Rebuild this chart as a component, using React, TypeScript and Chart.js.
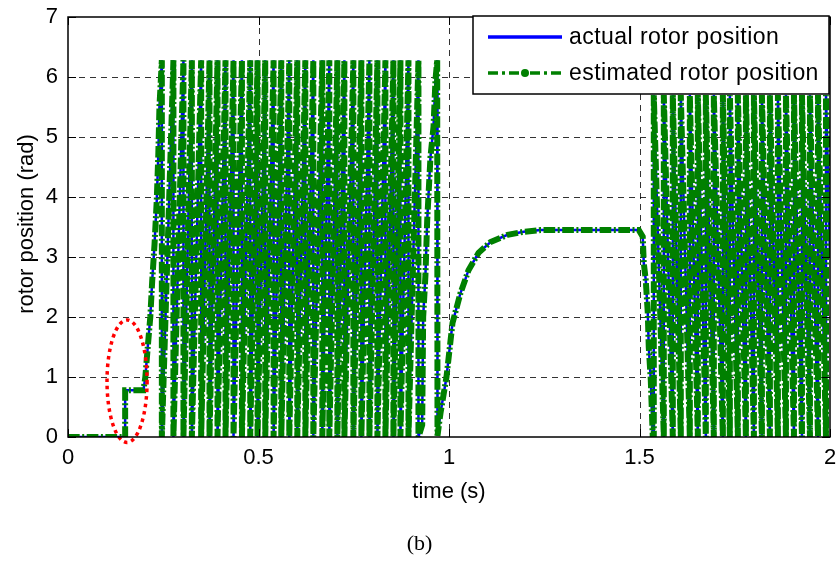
import { useEffect, useRef } from "react";
import { Chart, registerables } from "chart.js";

Chart.register(...registerables);

// ---- axis ticks ----
const X_TICKS = [0, 0.5, 1, 1.5, 2];
const Y_TICKS = [0, 1, 2, 3, 4, 5, 6, 7];

// ---- series values (time in s, angle in rad) ----
// start-up: rest, first alignment step, then the first slow ramp
const startTimes = [0, 0.15, 0.15, 0.198, 0.203, 0.21, 0.216, 0.221, 0.227, 0.233, 0.237, 0.24];
const startAngles = [0, 0, 0.78, 0.78, 1.0, 1.55, 2.0, 2.6, 3.2, 3.95, 4.7, 5.5];

// forward rotation: times where the angle wraps from 2π back to 0
const forwardWrapTimes = [
  0.2463, 0.2767, 0.303, 0.3251, 0.3495, 0.3714, 0.3924, 0.4134, 0.4344, 0.4565,
  0.4783, 0.4975, 0.5177, 0.5396, 0.5598, 0.5808, 0.6018, 0.6229, 0.6439, 0.6675,
  0.6859, 0.707, 0.7254, 0.749, 0.77, 0.7911, 0.8121, 0.8331, 0.8541, 0.8725,
  0.8936, 0.9198,
];
const FORWARD_PEAK = 6.28;

// last slow turn, coast-down to standstill, hold, then reverse start
const coastTimes = [
  0.9296, 0.9322, 0.9382, 0.9427, 0.9514, 0.9593, 0.9645, 0.969, 0.9698, 0.9777,
  0.9934, 1.0092, 1.0302, 1.0512, 1.0775, 1.1091, 1.1537, 1.1958, 1.2405, 1.498,
  1.5085, 1.5112, 1.5164, 1.5217, 1.5243, 1.5296, 1.5348,
];
const coastAngles = [
  0.2, 2.0, 2.7, 3.6, 4.67, 5.17, 5.95, 6.28, 0.02, 0.4,
  1.0, 1.9, 2.4, 2.78, 3.07, 3.25, 3.37, 3.42, 3.45, 3.45,
  3.34, 2.9, 2.62, 2.07, 1.5, 0.95, 0,
];

// reverse rotation: times where the angle wraps from 0 up to the top
const reverseWrapTimes = [
  1.5375, 1.5638, 1.5874, 1.6084, 1.6321, 1.6531, 1.6741, 1.6951, 1.7188, 1.7372,
  1.7582, 1.7793, 1.8003, 1.8213, 1.8423, 1.8633, 1.8844, 1.9054, 1.9264, 1.9474,
  1.9685, 1.9895,
];
const REVERSE_PEAK = 5.7;
const END_TIME = 2.0;
const END_ANGLE = 3.0;

// highlighted region (red dotted ellipse), in data units
const ELLIPSE_CENTER = { t: 0.155, a: 0.93 };
const ELLIPSE_RADII = { t: 0.0526, a: 1.02 };

const LEGEND_LABELS = ["actual rotor position", "estimated rotor position"];
const X_TITLE = "time (s)";
const Y_TITLE = "rotor position (rad)";
const CAPTION = "(b)";

const BLUE = "#0000ff";
const GREEN = "#008000";
const FONT = "'Liberation Sans', Arial, Helvetica, sans-serif";

function buildPoints() {
  const pts: { x: number; y: number }[] = [];
  startTimes.forEach((t, i) => pts.push({ x: t, y: startAngles[i] }));
  forwardWrapTimes.forEach((t) => {
    pts.push({ x: t, y: FORWARD_PEAK });
    pts.push({ x: t, y: 0 });
  });
  coastTimes.forEach((t, i) => pts.push({ x: t, y: coastAngles[i] }));
  reverseWrapTimes.forEach((t) => {
    pts.push({ x: t, y: 0 });
    pts.push({ x: t, y: REVERSE_PEAK });
  });
  pts.push({ x: END_TIME, y: END_ANGLE });
  return pts;
}

const decorPlugin = {
  id: "decor",
  beforeDatasetsDraw(chart: any) {
    const { ctx, chartArea: a, scales } = chart;
    ctx.save();
    ctx.strokeStyle = "rgba(0,0,0,0.8)";
    ctx.lineWidth = 1;
    ctx.setLineDash([6, 5]);
    X_TICKS.slice(1, -1).forEach((v) => {
      const x = Math.round(scales.x.getPixelForValue(v)) + 0.5;
      ctx.beginPath();
      ctx.moveTo(x, a.top);
      ctx.lineTo(x, a.bottom);
      ctx.stroke();
    });
    Y_TICKS.slice(1, -1).forEach((v) => {
      const y = Math.round(scales.y.getPixelForValue(v)) + 0.5;
      ctx.beginPath();
      ctx.moveTo(a.left, y);
      ctx.lineTo(a.right, y);
      ctx.stroke();
    });
    ctx.restore();
  },
  afterDatasetsDraw(chart: any) {
    const { ctx, chartArea: a, scales } = chart;
    ctx.save();
    // red dotted ellipse
    const cx = scales.x.getPixelForValue(ELLIPSE_CENTER.t);
    const cy = scales.y.getPixelForValue(ELLIPSE_CENTER.a);
    const rx = scales.x.getPixelForValue(ELLIPSE_CENTER.t + ELLIPSE_RADII.t) - cx;
    const ry = cy - scales.y.getPixelForValue(ELLIPSE_CENTER.a + ELLIPSE_RADII.a);
    ctx.strokeStyle = "#ff0000";
    ctx.lineWidth = 3.5;
    ctx.setLineDash([3.5, 4]);
    ctx.beginPath();
    ctx.ellipse(cx, cy, rx, ry, 0, 0, Math.PI * 2);
    ctx.stroke();
    ctx.setLineDash([]);

    // axes box + inward ticks
    ctx.strokeStyle = "#000";
    ctx.lineWidth = 1.5;
    ctx.strokeRect(a.left, a.top, a.right - a.left, a.bottom - a.top);
    ctx.lineWidth = 1;
    const tl = 8;
    X_TICKS.forEach((v) => {
      const x = Math.round(scales.x.getPixelForValue(v)) + 0.5;
      ctx.beginPath();
      ctx.moveTo(x, a.bottom);
      ctx.lineTo(x, a.bottom - tl);
      ctx.moveTo(x, a.top);
      ctx.lineTo(x, a.top + tl);
      ctx.stroke();
    });
    Y_TICKS.forEach((v) => {
      const y = Math.round(scales.y.getPixelForValue(v)) + 0.5;
      ctx.beginPath();
      ctx.moveTo(a.left, y);
      ctx.lineTo(a.left + tl, y);
      ctx.moveTo(a.right, y);
      ctx.lineTo(a.right - tl, y);
      ctx.stroke();
    });
    ctx.restore();
  },
  afterDraw(chart: any) {
    const { ctx, chartArea: a } = chart;
    ctx.save();
    // axis titles
    ctx.fillStyle = "#000";
    ctx.font = `22px ${FONT}`;
    ctx.textAlign = "center";
    ctx.textBaseline = "middle";
    ctx.fillText(X_TITLE, (a.left + a.right) / 2, 492);
    ctx.save();
    ctx.translate(27, 224);
    ctx.rotate(-Math.PI / 2);
    ctx.fillText(Y_TITLE, 0, 0);
    ctx.restore();

    // legend
    const bx = 473, by = 16, bw = 356, bh = 78;
    ctx.fillStyle = "#fff";
    ctx.fillRect(bx, by, bw, bh);
    ctx.strokeStyle = "#000";
    ctx.lineWidth = 1.5;
    ctx.strokeRect(bx, by, bw, bh);
    const y1 = 37, y2 = 73;
    ctx.lineWidth = 3.5;
    ctx.strokeStyle = BLUE;
    ctx.beginPath();
    ctx.moveTo(488, y1);
    ctx.lineTo(562, y1);
    ctx.stroke();
    ctx.strokeStyle = GREEN;
    ctx.setLineDash([10, 4, 3, 4]);
    ctx.beginPath();
    ctx.moveTo(488, y2);
    ctx.lineTo(562, y2);
    ctx.stroke();
    ctx.setLineDash([]);
    ctx.fillStyle = GREEN;
    ctx.beginPath();
    ctx.arc(525, y2, 4, 0, Math.PI * 2);
    ctx.fill();
    ctx.fillStyle = "#000";
    ctx.font = `23px ${FONT}`;
    ctx.textAlign = "left";
    ctx.textBaseline = "middle";
    try {
      (ctx as any).letterSpacing = "0.45px";
    } catch (e) {}
    ctx.fillText(LEGEND_LABELS[0], 569, y1 + 1);
    ctx.fillText(LEGEND_LABELS[1], 569, y2 + 1);
    ctx.restore();
  },
};

export default function App() {
  const ref = useRef<HTMLCanvasElement | null>(null);
  useEffect(() => {
    if (!ref.current) return;
    const pts = buildPoints();
    const chart = new Chart(ref.current, {
      type: "line",
      data: {
        datasets: [
          {
            label: LEGEND_LABELS[1],
            data: pts,
            borderColor: GREEN,
            borderWidth: 6,
            borderDash: [11.7, 2.5, 2, 2.5],
            pointRadius: 0,
            tension: 0,
            fill: false,
            order: 0,
          },
          {
            label: LEGEND_LABELS[0],
            data: pts,
            borderColor: BLUE,
            borderWidth: 2.5,
            pointRadius: 0,
            tension: 0,
            fill: false,
            order: 1,
          },
        ],
      },
      options: {
        responsive: false,
        animation: false,
        layout: { padding: { left: 0, right: 9, top: 17, bottom: 0 } },
        plugins: { legend: { display: false }, tooltip: { enabled: false } },
        scales: {
          x: {
            type: "linear",
            min: 0,
            max: 2,
            afterBuildTicks: (s: any) => {
              s.ticks = X_TICKS.map((v) => ({ value: v }));
            },
            afterFit: (s: any) => {
              s.height = 129;
              s.paddingLeft = 0;
              s.paddingRight = 0;
            },
            grid: { display: false, drawTicks: false },
            border: { display: false },
            ticks: {
              padding: 8,
              autoSkip: false,
              maxRotation: 0,
              color: "#000",
              font: { family: FONT, size: 22 },
              callback: (v: any) => String(v),
            },
          },
          y: {
            type: "linear",
            min: 0,
            max: 7,
            afterBuildTicks: (s: any) => {
              s.ticks = Y_TICKS.map((v) => ({ value: v }));
            },
            afterFit: (s: any) => {
              s.width = 68;
              s.paddingTop = 0;
              s.paddingBottom = 0;
            },
            grid: { display: false, drawTicks: false },
            border: { display: false },
            ticks: {
              padding: 10,
              autoSkip: false,
              color: "#000",
              font: { family: FONT, size: 22 },
              callback: (v: any) => String(v),
            },
          },
        },
      },
      plugins: [decorPlugin],
    });
    return () => chart.destroy();
  }, []);

  return (
    <div style={{ position: "fixed", left: 0, top: 0, width: 839, height: 566, background: "#fff" }}>
      <canvas ref={ref} width={839} height={566} style={{ display: "block" }} />
      <div
        style={{
          position: "absolute",
          left: 0,
          top: 529,
          width: 839,
          textAlign: "center",
          fontFamily: "'Liberation Serif', 'Times New Roman', serif",
          fontSize: 22,
          lineHeight: "28px",
        }}
      >
        {CAPTION}
      </div>
    </div>
  );
}
